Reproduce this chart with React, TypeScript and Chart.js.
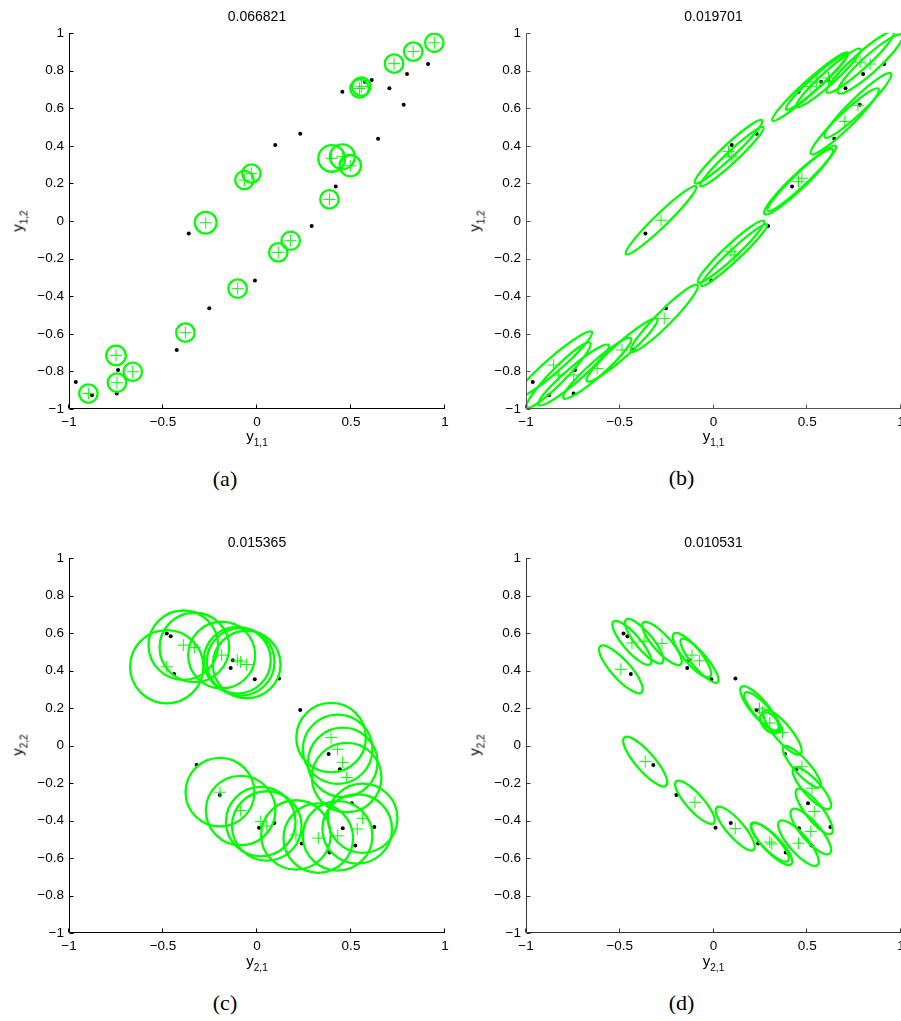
import React, { useEffect, useRef } from 'react';
import { Chart, registerables } from 'chart.js';
Chart.register(...registerables);

// ---------------- data ----------------
// observed points, space y1 (panels a, b)
const y1X = [0.910, 0.798, 0.610, 0.574, 0.454, 0.704, 0.780, 0.644, 0.230, 0.097, 0.419, 0.291, -0.363, -0.011, -0.254, -0.427, -0.739, -0.964, -0.878, -0.746];
const y1Y = [0.835, 0.782, 0.750, 0.741, 0.688, 0.706, 0.619, 0.438, 0.464, 0.404, 0.183, -0.027, -0.066, -0.317, -0.464, -0.686, -0.793, -0.856, -0.927, -0.918];
// observed points, space y2 (panels c, d)
const y2X = [-0.480, -0.459, -0.441, -0.129, -0.140, -0.012, 0.117, 0.230, 0.381, -0.321, 0.441, -0.198, 0.011, 0.092, 0.238, 0.385, 0.456, 0.504, 0.523, 0.624];
const y2Y = [0.597, 0.583, 0.381, 0.455, 0.414, 0.354, 0.358, 0.189, -0.045, -0.104, -0.127, -0.264, -0.439, -0.413, -0.523, -0.571, -0.441, -0.308, -0.533, -0.434];

// panel (a): circles (centre + radius)
const aCircleX = [0.943, 0.831, 0.729, 0.555, 0.545, 0.397, 0.454, 0.496, -0.030, -0.067, 0.385, -0.273, 0.179, 0.113, -0.103, -0.381, -0.750, -0.661, -0.745, -0.897];
const aCircleY = [0.948, 0.901, 0.837, 0.715, 0.705, 0.333, 0.342, 0.294, 0.252, 0.218, 0.115, -0.009, -0.105, -0.167, -0.360, -0.594, -0.715, -0.802, -0.860, -0.918];
const aCircleR = [0.049, 0.049, 0.049, 0.049, 0.049, 0.071, 0.066, 0.057, 0.049, 0.049, 0.049, 0.058, 0.049, 0.049, 0.049, 0.049, 0.052, 0.049, 0.049, 0.049];

// panel (b): ellipses (centre, semi-axes, angle in degrees)
const bEllX = [0.515, 0.55, 0.613, 0.782, 0.835, 0.70, 0.77, 0.453, 0.471, 0.08, 0.098, -0.28, 0.093, 0.11, -0.853, -0.826, -0.746, -0.62, -0.488, -0.263];
const bEllY = [0.715, 0.74, 0.761, 0.845, 0.835, 0.53, 0.615, 0.209, 0.227, 0.369, 0.342, 0.004, -0.163, -0.181, -0.766, -0.819, -0.819, -0.784, -0.686, -0.518];
const bEllA = [0.27, 0.22, 0.23, 0.24, 0.23, 0.25, 0.245, 0.25, 0.25, 0.245, 0.23, 0.26, 0.24, 0.24, 0.27, 0.24, 0.245, 0.24, 0.25, 0.25];
const bEllB = [0.035, 0.03, 0.035, 0.04, 0.045, 0.04, 0.04, 0.04, 0.035, 0.035, 0.03, 0.035, 0.035, 0.03, 0.04, 0.04, 0.04, 0.04, 0.04, 0.04];
const bEllAng = [42, 42, 42, 42, 42, 44, 44, 43.5, 43.5, 43, 43, 44, 43, 43, 41, 45.5, 40.5, 41.5, 41.5, 45];

// panel (c): circles
const cCircleX = [-0.480, -0.392, -0.333, -0.188, -0.105, -0.087, -0.055, 0.394, 0.429, 0.456, 0.477, -0.197, -0.087, 0.020, 0.052, 0.207, 0.326, 0.429, 0.533, 0.562];
const cCircleY = [0.420, 0.535, 0.523, 0.482, 0.455, 0.446, 0.432, 0.042, -0.020, -0.090, -0.171, -0.249, -0.347, -0.406, -0.429, -0.477, -0.494, -0.482, -0.445, -0.388];
const cCircleR = [0.195, 0.185, 0.185, 0.178, 0.178, 0.18, 0.18, 0.185, 0.185, 0.185, 0.185, 0.183, 0.185, 0.185, 0.185, 0.185, 0.185, 0.185, 0.185, 0.185];

// panel (d): ellipses
const dEllX = [-0.494, -0.435, -0.37, -0.275, -0.115, -0.075, 0.245, 0.262, 0.30, 0.368, 0.471, 0.525, 0.537, 0.519, 0.453, 0.311, 0.30, 0.116, -0.099, -0.364];
const dEllY = [0.406, 0.547, 0.556, 0.544, 0.482, 0.452, 0.198, 0.177, 0.12, 0.07, -0.113, -0.228, -0.352, -0.459, -0.521, -0.525, -0.515, -0.443, -0.303, -0.086];
const dEllA = [0.165, 0.15, 0.15, 0.15, 0.15, 0.15, 0.15, 0.14, 0.065, 0.15, 0.145, 0.145, 0.15, 0.155, 0.155, 0.15, 0.14, 0.15, 0.15, 0.17];
const dEllB = [0.05, 0.045, 0.045, 0.045, 0.045, 0.04, 0.045, 0.04, 0.04, 0.045, 0.04, 0.045, 0.045, 0.05, 0.05, 0.045, 0.042, 0.045, 0.045, 0.05];
const dEllAng = [-48, -49, -50, -48, -50, -50, -50, -48, -50, -50, -48, -48, -52, -49, -49, -46, -46, -49, -48, -49];

const titles = ['0.066821', '0.019701', '0.015365', '0.010531'];
const captions = ['(a)', '(b)', '(c)', '(d)'];
const xLabelSubs = ['1,1', '1,1', '2,1', '2,1'];
const yLabelSubs = ['1,2', '1,2', '2,2', '2,2'];
const xTicks = [-1, -0.5, 0, 0.5, 1];
const yTicks = [-1, -0.8, -0.6, -0.4, -0.2, 0, 0.2, 0.4, 0.6, 0.8, 1];

// ---------------- rendering ----------------
const SANS = "'Liberation Sans', Arial, Helvetica, sans-serif";
const SERIF = "'Liberation Serif', 'Times New Roman', serif";
const GREEN = '#00ff00';

const fmt = (v: number) => (v === 0 ? '0' : (v < 0 ? '\u2212' : '') + String(Math.abs(v)));

type PanelProps = {
  left: number; top: number; width: number; height: number;
  padL: number; padR: number; padT: number; padB: number;
  dotsX: number[]; dotsY: number[];
  ellX: number[]; ellY: number[]; ellA: number[]; ellB?: number[]; ellAng?: number[];
  axisColor: string;
};

function Panel(p: PanelProps) {
  const ref = useRef<HTMLCanvasElement | null>(null);
  useEffect(() => {
    if (!ref.current) return;
    const dots = p.dotsX.map((x, i) => ({ x, y: p.dotsY[i] }));
    const crosses = p.ellX.map((x, i) => ({ x, y: p.ellY[i] }));
    const overlay = {
      id: 'overlay',
      afterDatasetDraw(chart: any, args: any) {
        if (args.index !== 1) return;
        const { ctx, chartArea, scales } = chart;
        const xs = scales.x, ys = scales.y;
        const sx = xs.getPixelForValue(1) - xs.getPixelForValue(0);
        const sy = ys.getPixelForValue(0) - ys.getPixelForValue(1);
        ctx.save();
        ctx.beginPath();
        ctx.rect(chartArea.left, chartArea.top, chartArea.right - chartArea.left, chartArea.bottom - chartArea.top);
        ctx.clip();
        ctx.strokeStyle = GREEN;
        ctx.lineWidth = 2.3;
        for (let i = 0; i < p.ellX.length; i++) {
          const px = xs.getPixelForValue(p.ellX[i]);
          const py = ys.getPixelForValue(p.ellY[i]);
          const a = p.ellA[i];
          const b = p.ellB ? p.ellB[i] : a;
          const ang = p.ellAng ? p.ellAng[i] : 0;
          ctx.beginPath();
          ctx.save();
          ctx.translate(px, py);
          ctx.scale(sx, -sy);
          ctx.rotate((ang * Math.PI) / 180);
          ctx.ellipse(0, 0, a, b, 0, 0, 2 * Math.PI);
          ctx.restore();
          ctx.stroke();
        }
        ctx.restore();
      },
      afterDraw(chart: any) {
        const { ctx, chartArea, scales } = chart;
        const L = Math.round(chartArea.left) + 0.5;
        const B = Math.round(chartArea.bottom) - 0.5;
        ctx.save();
        ctx.strokeStyle = p.axisColor;
        ctx.lineWidth = 1;
        ctx.beginPath();
        ctx.moveTo(L, chartArea.top);
        ctx.lineTo(L, B);
        ctx.lineTo(chartArea.right, B);
        for (const v of yTicks) {
          const y = Math.round(scales.y.getPixelForValue(v)) + 0.5;
          ctx.moveTo(L, y);
          ctx.lineTo(L + 4, y);
        }
        for (const v of xTicks) {
          const x = Math.round(scales.x.getPixelForValue(v)) - 0.5;
          ctx.moveTo(x, B);
          ctx.lineTo(x, B - 4);
        }
        ctx.stroke();
        ctx.restore();
      },
    };
    const tickFont = { family: SANS, size: 13.5 };
    const chart = new Chart(ref.current, {
      type: 'scatter',
      data: {
        datasets: [
          {
            data: crosses, pointStyle: 'cross', pointRadius: 6, pointBorderWidth: 1,
            pointBorderColor: GREEN, borderColor: GREEN, backgroundColor: GREEN, order: 1,
          } as any,
          {
            data: dots, pointStyle: 'circle', pointRadius: 2, pointBorderWidth: 0,
            pointBackgroundColor: '#000', pointBorderColor: '#000', order: 2,
          } as any,
        ],
      },
      options: {
        responsive: false,
        animation: false,
        devicePixelRatio: 1,
        events: [],
        layout: { padding: { left: p.padL, right: p.padR, top: p.padT, bottom: p.padB } },
        plugins: { legend: { display: false }, tooltip: { enabled: false }, title: { display: false } },
        scales: {
          x: {
            type: 'linear', min: -1, max: 1,
            grid: { display: false, drawTicks: false },
            border: { display: false },
            ticks: { font: tickFont, color: '#000', padding: 5, maxRotation: 0, autoSkip: false, callback: (v: any) => fmt(Number(v)) },
            afterBuildTicks: (s: any) => { s.ticks = xTicks.map((v) => ({ value: v })); },
            afterFit: (s: any) => { s.height = 21; },
          },
          y: {
            type: 'linear', min: -1, max: 1,
            grid: { display: false, drawTicks: false },
            border: { display: false },
            ticks: { font: tickFont, color: '#000', padding: 5, autoSkip: false, callback: (v: any) => fmt(Number(v)) },
            afterBuildTicks: (s: any) => { s.ticks = yTicks.map((v) => ({ value: v })); },
            afterFit: (s: any) => { s.width = 45; },
          },
        },
      } as any,
      plugins: [overlay],
    });
    return () => chart.destroy();
  }, []);
  return (
    <canvas
      ref={ref}
      width={p.width}
      height={p.height}
      style={{ position: 'absolute', left: p.left, top: p.top, width: p.width, height: p.height }}
    />
  );
}

const Sub = ({ sub }: { sub: string }) => (
  <span>
    y<span style={{ fontSize: 10, position: 'relative', top: 5 }}>{sub}</span>
  </span>
);

export default function App() {
  const panels = [
    { left: 0, top: 0, padB: 0, dotsX: y1X, dotsY: y1Y, ellX: aCircleX, ellY: aCircleY, ellA: aCircleR, axisColor: '#000', padR: 15 },
    { left: 457, top: 0, padB: 0, dotsX: y1X, dotsY: y1Y, ellX: bEllX, ellY: bEllY, ellA: bEllA, ellB: bEllB, ellAng: bEllAng, axisColor: '#555', padR: 16 },
    { left: 0, top: 525, padB: 1, dotsX: y2X, dotsY: y2Y, ellX: cCircleX, ellY: cCircleY, ellA: cCircleR, axisColor: '#000', padR: 15 },
    { left: 457, top: 525, padB: 1, dotsX: y2X, dotsY: y2Y, ellX: dEllX, ellY: dEllY, ellA: dEllA, ellB: dEllB, ellAng: dEllAng, axisColor: '#333', padR: 16 },
  ];
  const plotCx = [257, 713.5, 257, 713.5];
  const titleCy = [16, 16, 542, 542];
  const xLabTop = [428, 428, 953, 953];
  const yLabX = [18, 475, 18, 475];
  const yLabCy = [220.5, 220.5, 745, 745];
  const capCx = [225, 681.5, 225, 681.5];
  const capCy = [479, 478, 1003, 1003];
  return (
    <div style={{ position: 'absolute', left: 0, top: 0, width: 901, height: 1021, overflow: 'hidden', background: '#fff' }}>
      {panels.map((pp, i) => (
        <Panel key={i} width={460} height={430} padL={24} padT={33} {...pp} />
      ))}
      {titles.map((t, i) => (
        <div key={'t' + i} style={{ position: 'absolute', left: plotCx[i], top: titleCy[i], transform: 'translate(-50%,-50%)', fontFamily: SANS, fontSize: 14, lineHeight: '14px', whiteSpace: 'nowrap', color: '#000' }}>{t}</div>
      ))}
      {xLabelSubs.map((s, i) => (
        <div key={'x' + i} style={{ position: 'absolute', left: plotCx[i], top: xLabTop[i], transform: 'translateX(-50%)', fontFamily: SANS, fontSize: 15, lineHeight: '15px', whiteSpace: 'nowrap', color: '#000' }}><Sub sub={s} /></div>
      ))}
      {yLabelSubs.map((s, i) => (
        <div key={'y' + i} style={{ position: 'absolute', left: yLabX[i], top: yLabCy[i], transform: 'translate(-50%,-50%) rotate(-90deg)', fontFamily: SANS, fontSize: 15, lineHeight: '15px', whiteSpace: 'nowrap', color: '#000' }}><Sub sub={s} /></div>
      ))}
      {captions.map((c, i) => (
        <div key={'c' + i} style={{ position: 'absolute', left: capCx[i], top: capCy[i], transform: 'translate(-50%,-50%)', fontFamily: SERIF, fontSize: 22, lineHeight: '22px', whiteSpace: 'nowrap', color: '#000' }}>{c}</div>
      ))}
    </div>
  );
}
